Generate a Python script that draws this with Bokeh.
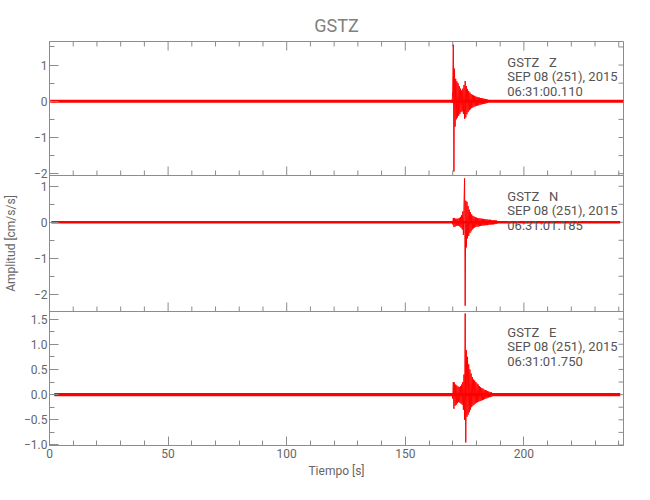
import numpy as np
from bokeh.plotting import figure
from bokeh.models import (Range1d, LinearAxis, FixedTicker, CustomJSTickFormatter,
                          Label, Span)
from bokeh.embed import file_html
from bokeh.resources import INLINE

# ---------------- data ----------------
station = "GSTZ"
components = ["Z", "N", "E"]
date_text = "SEP 08 (251), 2015"
start_times = ["06:31:00.110", "06:31:01.185", "06:31:01.750"]
x_label = "Tiempo [s]"
y_label = "Amplitud [cm/s/s]"

x_limits = [0, 242]
x_major = [0, 50, 100, 150, 200]
x_minor = list(range(0, 250, 10))

y_limits = [[-2.05, 1.65], [-2.48, 1.30], [-1.01, 1.65]]
y_major = [[-2, -1, 0, 1], [-2, -1, 0, 1], [-1.0, -0.5, 0.0, 0.5, 1.0, 1.5]]
y_minor = [[-2.0, -1.5, -1.0, -0.5, 0.0, 0.5, 1.0, 1.5],
           [-2.0, -1.5, -1.0, -0.5, 0.0, 0.5, 1.0],
           [-1.0, -0.75, -0.5, -0.25, 0.0, 0.25, 0.5, 0.75, 1.0, 1.25, 1.5]]
y_digits = [0, 0, 1]

# background noise level (half-width of the band) and its time span
noise_t = [[0.3, 242.0], [0.8, 240.6], [2.0, 240.6]]
noise_amp = [0.04, 0.035, 0.03]

# event samples (start time, sample step)
event_start = [169.5, 169.75, 169.75]
event_step = 0.25
z_event = [0.04, -0.05, 0.3, 1.56, -1.94, 0.9, -0.7, 0.62, -0.5, 0.55, -0.45, 0.5,
           -0.4, 0.42, -0.35, 0.35, -0.3, 0.3, -0.28, 0.35, -0.35, 0.45, -0.49, 0.56,
           -0.45, 0.42, -0.36, 0.34, -0.3, 0.28, -0.25, 0.24, -0.22, 0.2, -0.19, 0.18,
           -0.17, 0.16, -0.15, 0.15, -0.14, 0.13, -0.13, 0.12, -0.12, 0.11, -0.11, 0.1,
           -0.1, 0.09, -0.09, 0.09, -0.08, 0.08, -0.07, 0.07, -0.07, 0.06, -0.06, 0.06,
           -0.05, 0.05]
n_event = [0.04, -0.06, 0.12, -0.13, 0.12, -0.12, 0.1, -0.1, 0.1, -0.09, 0.1, -0.1,
           0.12, -0.12, 0.15, -0.15, 0.2, -0.2, 0.3, -0.35, 0.5, 1.22, -2.32, 0.6,
           -0.7, 0.57, -0.45, 0.45, -0.38, 0.35, -0.3, 0.28, -0.25, 0.22, -0.2, 0.18,
           -0.17, 0.16, -0.15, 0.14, -0.13, 0.13, -0.12, 0.12, -0.12, 0.11, -0.11, 0.11,
           -0.1, 0.1, -0.1, 0.1, -0.09, 0.09, -0.09, 0.09, -0.08, 0.08, -0.08, 0.08,
           -0.08, 0.07, -0.07, 0.07, -0.07, 0.07, -0.06, 0.06, -0.06, 0.06, -0.06, 0.06,
           -0.05, 0.05, -0.05, 0.05, -0.04]
e_event = [0.03, -0.08, 0.25, -0.28, 0.24, -0.22, 0.2, -0.2, 0.18, -0.17, 0.16, -0.15,
           0.15, -0.16, 0.17, -0.18, 0.2, -0.2, 0.25, -0.3, 0.4, -0.5, 1.61, -0.95,
           0.88, -0.44, 0.75, -0.4, 0.6, -0.35, 0.5, -0.3, 0.42, -0.25, 0.35, -0.22,
           0.3, -0.2, 0.28, -0.18, 0.25, -0.16, 0.22, -0.15, 0.2, -0.14, 0.17, -0.13,
           0.15, -0.12, 0.13, -0.11, 0.12, -0.1, 0.1, -0.09, 0.09, -0.08, 0.08, -0.07,
           0.07, -0.06, 0.06, -0.05, 0.05, -0.05, 0.05, -0.04]
events = [z_event, n_event, e_event]

# ---------------- style / layout ----------------
FONT = "Roboto"
FRAME = "#8c8c8c"
TEXT = "#666666"
ANN = "#555555"
RED = "#ff0000"

W, H = 642, 492
panel_px = [134, 136, 134]            # frame height of each stacked panel (top to bottom)
G = float(sum(panel_px))              # global frame units = pixels from frame bottom
g_bounds = []
acc = G
for hpx in panel_px:
    g_bounds.append((acc - hpx, acc))
    acc -= hpx

ann_offsets = [20.5, 35.0, 49.7]      # px below each panel top
ann_x = 193.0
NBSP3 = "\u00a0\u00a0\u00a0"


def to_global(i, v):
    lo, hi = y_limits[i]
    g0, g1 = g_bounds[i]
    return g0 + (v - lo) / (hi - lo) * (g1 - g0)


def fmt_val(v, d):
    s = ("%." + str(d) + "f") % abs(v)
    return ("\u2212" if v < -1e-9 else "") + s


p = figure(width=W, height=H, x_range=Range1d(*x_limits), y_range=Range1d(0, G),
           output_backend="svg", toolbar_location=None,
           x_axis_location=None, y_axis_location=None,
           min_border_left=47, min_border_right=19, min_border_top=41,
           min_border_bottom=47)
p.grid.visible = False
p.outline_line_color = FRAME
p.border_fill_color = "white"
p.background_fill_color = "white"

# per-panel y ranges mapped onto their slice of the frame
for i, c in enumerate(components):
    lo, hi = y_limits[i]
    g0, g1 = g_bounds[i]
    scale = (hi - lo) / (g1 - g0)
    start = lo - g0 * scale
    p.extra_y_ranges[c] = Range1d(start, start + G * scale)

# left axis: ticks of all three panels
gl_major, gl_labels, gl_minor = [], [], []
for i in range(3):
    for v in y_major[i]:
        gl_major.append(to_global(i, v))
        gl_labels.append(fmt_val(v, y_digits[i]))
    for v in y_minor[i]:
        gl_minor.append(to_global(i, v))

la = LinearAxis(ticker=FixedTicker(ticks=gl_major, minor_ticks=gl_minor),
                formatter=CustomJSTickFormatter(args=dict(pos=gl_major, labs=gl_labels), code="""
    let best = 0, d = Infinity;
    for (let k = 0; k < pos.length; k++) {
        const e = Math.abs(pos[k] - tick);
        if (e < d) { d = e; best = k; }
    }
    return labs[best];
"""))
la.major_tick_in = 9
la.major_tick_out = 0
la.minor_tick_in = 5
la.minor_tick_out = 0
la.axis_line_color = FRAME
la.major_tick_line_color = FRAME
la.minor_tick_line_color = FRAME
la.major_label_standoff = 2
la.major_label_text_font = FONT
la.major_label_text_font_size = "12px"
la.major_label_text_color = TEXT
la.axis_label = y_label
la.axis_label_text_font = FONT
la.axis_label_text_font_size = "12px"
la.axis_label_text_font_style = "normal"
la.axis_label_text_color = TEXT
la.axis_label_standoff = 3
p.add_layout(la, "left")

# bottom axis
ba = LinearAxis(ticker=FixedTicker(ticks=x_major, minor_ticks=x_minor))
ba.major_tick_in = 9
ba.major_tick_out = 0
ba.minor_tick_in = 5
ba.minor_tick_out = 0
ba.axis_line_color = FRAME
ba.major_tick_line_color = FRAME
ba.minor_tick_line_color = FRAME
ba.major_label_standoff = 3
ba.major_label_text_font = FONT
ba.major_label_text_font_size = "12px"
ba.major_label_text_color = TEXT
ba.axis_label = x_label
ba.axis_label_text_font = FONT
ba.axis_label_text_font_size = "12px"
ba.axis_label_text_font_style = "normal"
ba.axis_label_text_color = TEXT
ba.axis_label_standoff = 3
p.add_layout(ba, "below")

# panel separators
for i in range(1, 3):
    p.add_layout(Span(location=g_bounds[i][1], dimension="width",
                      line_color=FRAME, line_width=1))

# inward tick marks drawn as screen-length rays
def tick_rays(xs, ys, length, angle):
    p.ray(x=xs, y=ys, length=length, length_units="screen", angle=angle,
          line_color=FRAME, line_width=1)

x_minor_only = [v for v in x_minor if v not in x_major]
# top of panel 1 (pointing down)
tick_rays(x_major, [G] * len(x_major), 9, -np.pi / 2)
tick_rays(x_minor_only, [G] * len(x_minor_only), 5, -np.pi / 2)
# bottoms of panels 1 and 2 (pointing up)
for i in range(2):
    gb = g_bounds[i][0]
    tick_rays(x_major, [gb] * len(x_major), 9, np.pi / 2)
    tick_rays(x_minor_only, [gb] * len(x_minor_only), 5, np.pi / 2)
# right side (pointing left)
tick_rays([x_limits[1]] * len(gl_minor), gl_minor, 5, np.pi)

# waveforms
for i, c in enumerate(components):
    a = noise_amp[i]
    p.varea(x=noise_t[i], y1=[-a, -a], y2=[a, a], fill_color=RED, fill_alpha=1.0,
            y_range_name=c)
    vals = events[i]
    t = event_start[i] + event_step * np.arange(len(vals))
    p.line(t, vals, line_color=RED, line_width=1, y_range_name=c)

    lo, hi = y_limits[i]
    ppu = panel_px[i] / (hi - lo)
    lines = [station + NBSP3 + c, date_text, start_times[i]]
    for k, txt in enumerate(lines):
        p.add_layout(Label(x=ann_x, y=hi - ann_offsets[k] / ppu, y_range_name=c,
                           text=txt, text_font=FONT, text_font_size="13px",
                           text_color=ANN, text_baseline="middle", text_align="left"))

# title
p.title.text = station
p.title.align = "center"
p.title.text_font = FONT
p.title.text_font_size = "18px"
p.title.text_font_style = "normal"
p.title.text_color = "#808080"
p.title.standoff = 11

open("out.html", "w").write(file_html(p, INLINE))
